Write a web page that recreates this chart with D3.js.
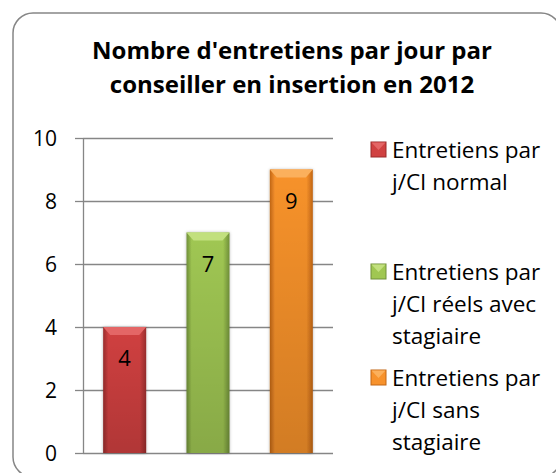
<!DOCTYPE html>
<html>
<head>
<meta charset="utf-8">
<script src="https://cdn.jsdelivr.net/npm/d3@7"></script>
<style>
  body { margin: 0; background: #fff; }
  text { font-family: "Open Sans", Lato, sans-serif; }
</style>
</head>
<body>
<svg width="556" height="473"></svg>
<script>
// chart data
const categories = ["Entretiens par j/CI normal", "Entretiens par j/CI réels avec stagiaire", "Entretiens par j/CI sans stagiaire"];
const values = [4, 7, 9];
const yTicks = [0, 2, 4, 6, 8, 10];
const titleLines = ["Nombre d'entretiens par jour par", "conseiller en insertion en 2012"];
const legendLines = [["Entretiens par", "j/CI normal"], ["Entretiens par", "j/CI réels avec", "stagiaire"], ["Entretiens par", "j/CI sans", "stagiaire"]];

// colours: main, light (top bevel), dark (edges)
const colors = [
  {main: "#D04141", light: "#E46666", dark: "#9A2B2B"},
  {main: "#A0C752", light: "#C2E07E", dark: "#70903A"},
  {main: "#F7922C", light: "#FBB05C", dark: "#C26614"}
];

let svg = d3.select("svg");
let plotLeft = 83, plotRight = 333, plotTop = 138, plotBottom = 453;

// frame
svg.append("rect")
   .attr("x", 13).attr("y", 13)
   .attr("width", 548).attr("height", 464)
   .attr("rx", 20)
   .attr("fill", "#fff")
   .attr("stroke", "#868686")
   .attr("stroke-width", 1.5)

// title
svg.append("text")
   .attr("text-anchor", "middle")
   .attr("font-weight", "bold")
   .attr("font-size", 24)
   .selectAll("tspan")
   .data(titleLines)
   .enter()
   .append("tspan")
   .attr("x", 292)
   .attr("y", (d, i) => 59 + i * 34)
   .text(d => d)

let x = d3.scaleBand()
          .domain(categories)
          .range([plotLeft, plotRight])
          .paddingInner(0.484)
          .paddingOuter(0.242)

let y = d3.scaleLinear()
          .domain([0, 10])
          .range([plotBottom, plotTop])

// gradients
let defs = svg.append("defs");
colors.forEach((c, i) => {
  let g = defs.append("linearGradient").attr("id", "grad" + i)
              .attr("x1", 0).attr("x2", 1).attr("y1", 0).attr("y2", 0);
  g.append("stop").attr("offset", "0%").attr("stop-color", c.dark);
  g.append("stop").attr("offset", "12%").attr("stop-color", c.main);
  g.append("stop").attr("offset", "85%").attr("stop-color", c.main);
  g.append("stop").attr("offset", "100%").attr("stop-color", c.dark);
  let v = defs.append("linearGradient").attr("id", "vgrad" + i)
              .attr("x1", 0).attr("x2", 0).attr("y1", 0).attr("y2", 1);
  v.append("stop").attr("offset", "0%").attr("stop-color", "#000").attr("stop-opacity", 0);
  v.append("stop").attr("offset", "100%").attr("stop-color", "#000").attr("stop-opacity", 0.15);
});
let shadow = defs.append("filter").attr("id", "shadow")
                 .attr("x", "-20%").attr("y", "-5%").attr("width", "140%").attr("height", "110%");
shadow.append("feDropShadow").attr("dx", 0).attr("dy", 0).attr("stdDeviation", 1.5)
      .attr("flood-color", "#000").attr("flood-opacity", 0.3);

// gridlines
svg.append("g")
   .attr("transform", "translate(" + plotLeft + ",0)")
   .call(d3.axisLeft(y).tickValues(yTicks).tickSize(-(plotRight - plotLeft)).tickFormat(""))
   .call(g => g.select(".domain").remove())
   .call(g => g.selectAll("line").attr("stroke", "#868686").attr("stroke-width", 1.3))

// y axis
svg.append("g")
   .attr("transform", "translate(" + plotLeft + ",0)")
   .call(d3.axisLeft(y).tickValues(yTicks).tickSizeInner(8).tickSizeOuter(0).tickPadding(18))
   .call(g => g.select(".domain").attr("stroke", "#868686").attr("stroke-width", 1.3))
   .call(g => g.selectAll("line").attr("stroke", "#868686").attr("stroke-width", 1.3))
   .call(g => g.selectAll("text").attr("font-size", 21).attr("fill", "#000")
                .attr("font-family", "'Open Sans', sans-serif").attr("dy", "0.36em"))

// bars
let bars = svg.selectAll(".bar")
   .data(values)
   .enter()
   .append("g")
   .attr("class", "bar")

bars.append("rect")
   .attr("x", (d, i) => x(categories[i]))
   .attr("y", d => y(d))
   .attr("width", x.bandwidth())
   .attr("height", d => y(0) - y(d))
   .attr("fill", (d, i) => "url(#grad" + i + ")")
   .attr("filter", "url(#shadow)")

bars.append("rect")
   .attr("x", (d, i) => x(categories[i]))
   .attr("y", d => y(d))
   .attr("width", x.bandwidth())
   .attr("height", d => y(0) - y(d))
   .attr("fill", (d, i) => "url(#vgrad" + i + ")")

// top bevel
bars.append("path")
   .attr("d", (d, i) => {
     let x0 = x(categories[i]), x1 = x0 + x.bandwidth(), t = y(d);
     return "M" + x0 + "," + t + "L" + x1 + "," + t + "L" + (x1 - 7) + "," + (t + 8) + "L" + (x0 + 7) + "," + (t + 8) + "Z";
   })
   .attr("fill", (d, i) => colors[i].light)

// value labels
bars.append("text")
   .attr("x", (d, i) => x(categories[i]) + x.bandwidth() / 2)
   .attr("y", d => y(d) + 39)
   .attr("text-anchor", "middle")
   .attr("font-size", 22)
   .attr("fill", "#000")
   .text(d => d)

// legend
const legendY = [158, 280, 386];
let legend = svg.selectAll(".legend")
   .data(legendLines)
   .enter()
   .append("g")
   .attr("class", "legend")
   .attr("transform", (d, i) => "translate(371," + legendY[i] + ")")

legend.append("rect")
   .attr("x", 0).attr("y", -16)
   .attr("width", 15).attr("height", 15)
   .attr("fill", (d, i) => colors[i].main)
   .attr("stroke", (d, i) => colors[i].dark)
   .attr("stroke-width", 1)

legend.append("path")
   .attr("d", "M0.5,-15.5L14.5,-15.5L7.5,-8Z")
   .attr("fill", (d, i) => colors[i].light)

legend.append("text")
   .attr("font-size", 22.5)
   .attr("fill", "#000")
   .selectAll("tspan")
   .data(d => d)
   .enter()
   .append("tspan")
   .attr("x", 21)
   .attr("y", (d, i) => i * 32)
   .text(d => d)
</script>
</body>
</html>
